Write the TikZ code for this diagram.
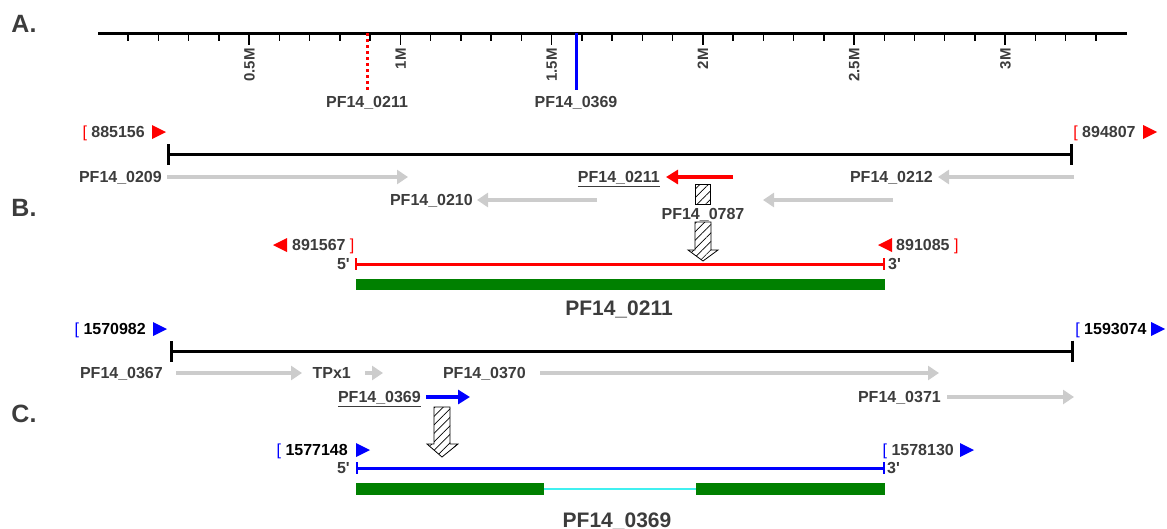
\documentclass[tikz,border=0pt]{standalone}
\usepackage{fontspec}
\setmainfont{Liberation Sans}
\usetikzlibrary{arrows.meta,patterns.meta,positioning}

\definecolor{txtgray}{HTML}{3C3C3C}
\definecolor{genegray}{HTML}{CCCCCC}
\definecolor{exongreen}{HTML}{008000}
\definecolor{introncyan}{HTML}{40F0F0}

\tikzset{
  lbl/.style={font=\fontsize{16}{18}\selectfont\bfseries, text=txtgray, inner sep=0pt, text height=11.5pt, text depth=0pt},
  brk/.style={font=\fontsize{16}{18}\selectfont, inner sep=0pt, text height=11.5pt, text depth=0pt},
  ticklbl/.style={font=\fontsize{15}{17}\selectfont\bfseries, text=txtgray, inner sep=0pt, text height=10.7pt, text depth=0pt, rotate=90, anchor=east},
  biglbl/.style={font=\fontsize{21}{24}\selectfont\bfseries, text=txtgray, inner sep=0pt, text height=15pt, text depth=0pt},
  panel/.style={font=\fontsize{25}{28}\selectfont\bfseries, text=txtgray, inner sep=0pt},
  chrom/.style={line width=3pt, {Bar[width=21pt]}-{Bar[width=21pt]}},
  amplicon/.style={line width=3pt},
  endtick/.style={line width=1.8pt},
  gene/.style={draw=genegray, line width=4.5pt, -{Triangle[length=11pt,width=14pt]}},
  hit/.style={line width=4.5pt, -{Triangle[length=12pt,width=14pt]}},
  hatch/.style={draw=black, line width=0.8pt, fill=white, postaction={pattern={Lines[angle=45,distance=6pt,line width=0.7pt]}}},
}

\begin{document}
\begin{tikzpicture}[x=1pt,y=-1pt]
\useasboundingbox (0,0) rectangle (1167,528);

% A. chromosome ruler
\node[panel] (pa) at (24,24) {A.};
\draw[line width=3pt] (98,33) -- (1127,33);
\foreach \i in {1,...,33}
  \draw[line width=1.5pt] ({98+30.24*\i},33) -- ++(0,8);
\foreach \i/\t in {1/0.5M,2/1M,3/1.5M,4/2M,5/2.5M,6/3M} {
  \draw[line width=1.5pt] ({98+151.2*\i},33) -- ++(0,12);
  \node[ticklbl] (t\i) at ({98+151.2*\i},48) {\t};
}
\node[lbl] (a211) at (367,102) {PF14\_0211};
\node[lbl] (a369) at (576,102) {PF14\_0369};
\draw[red, line width=3pt, dash pattern=on 3pt off 3pt] (367,33) -- ([yshift=6pt]a211.north);
\draw[blue, line width=3pt] (576,33) -- ([yshift=6pt]a369.north);

% B. PF14_0211 region
\node[panel] (pb) at (24,208) {B.};
\node[lbl, anchor=east] (bl) at (145,132) {885156};
\node[brk, text=red, left=4pt of bl] {[};
\fill[red] (152,125) -- (166,132) -- (152,139) -- cycle;
\node[lbl, anchor=west] (br) at (1082,132) {894807};
\node[brk, text=red, left=4pt of br] {[};
\fill[red] (1143,125) -- (1157,132) -- (1143,139) -- cycle;
\draw[chrom] (167,154) -- (1073,154);

\node[lbl, anchor=east] (g209) at (162,177) {PF14\_0209};
\draw[gene] (167,177) -- (408,177);
\node[lbl, anchor=east] (g211) at (660,177) {\underline{PF14\_0211}};
\draw[hit, red] (733,177) -- (666,177);
\node[lbl, anchor=east] (g212) at (933,177) {PF14\_0212};
\draw[gene] (1074,177) -- (938,177);
\node[lbl, anchor=east] (g210) at (473,200) {PF14\_0210};
\draw[gene] (597,200) -- (477,200);
\draw[gene] (893,200) -- (763,200);

\draw[hatch] (695,184) rectangle (710,204);
\node[lbl] (g787) at (703,214) {PF14\_0787};
\draw[hatch] (695,222) -- (711,222) -- (711,250) -- (718,250) -- (703,261)
  -- (688,250) -- (695,250) -- cycle;

\fill[red] (287,238) -- (273,245) -- (287,252) -- cycle;
\node[lbl, anchor=west] (pl) at (292,245) {891567};
\node[brk, text=red, right=4pt of pl] {]};
\fill[red] (892,238) -- (878,245) -- (892,252) -- cycle;
\node[lbl, anchor=west] (pr) at (896,245) {891085};
\node[brk, text=red, right=4pt of pr] {]};
\node[lbl, anchor=east] (b5) at (350,264) {5\textquotesingle};
\node[lbl, anchor=west] (b3) at (888,264) {3\textquotesingle};
\draw[amplicon, red] (356,264) -- (884,264);
\draw[endtick, red] (356,258) -- (356,270) (884,258) -- (884,270);
\fill[exongreen] (356,279) rectangle (885,290);
\node[biglbl] (gb) at (619,308) {PF14\_0211};

% C. PF14_0369 region
\node[panel] (pc) at (24,414) {C.};
\node[lbl, text=black, anchor=east] (cl) at (146,329) {1570982};
\node[brk, text=blue, left=4pt of cl] {[};
\fill[blue] (153,322) -- (167,329) -- (153,336) -- cycle;
\node[lbl, text=black, anchor=west] (cr) at (1084,329) {1593074};
\node[brk, text=blue, left=4pt of cr] {[};
\fill[blue] (1151,322) -- (1165,329) -- (1151,336) -- cycle;
\draw[chrom] (170,351) -- (1074,351);

\node[lbl, anchor=east] (g367) at (163,373) {PF14\_0367};
\draw[gene] (176,373) -- (302,373);
\node[lbl, anchor=east] (tpx) at (351,373) {TPx1};
\draw[gene] (365,373) -- (383,373);
\node[lbl, anchor=east] (g370) at (526,373) {PF14\_0370};
\draw[gene] (540,373) -- (939,373);
\node[lbl, anchor=east] (g369) at (421,397) {\underline{PF14\_0369}};
\draw[hit, blue] (426,397) -- (470,397);
\node[lbl, anchor=east] (g371) at (941,397) {PF14\_0371};
\draw[gene] (947,397) -- (1074,397);

\draw[hatch] (434,407) -- (450,407) -- (450,444) -- (458,444) -- (442,457)
  -- (427,444) -- (434,444) -- cycle;

\node[lbl, text=black, anchor=east] (ql) at (348,450) {1577148};
\node[brk, text=blue, left=4pt of ql] {[};
\fill[blue] (356,443) -- (370,450) -- (356,457) -- cycle;
\node[lbl, anchor=east] (qr) at (954,450) {1578130};
\node[brk, text=blue, left=4pt of qr] {[};
\fill[blue] (960,443) -- (974,450) -- (960,457) -- cycle;
\node[lbl, anchor=east] (c5) at (350,468) {5\textquotesingle};
\node[lbl, anchor=west] (c3) at (887,468) {3\textquotesingle};
\draw[amplicon, blue] (357,468) -- (884,468);
\draw[endtick, blue] (357,462) -- (357,474) (884,462) -- (884,474);
\draw[introncyan, line width=1.8pt] (544,489) -- (696,489);
\fill[exongreen] (356,483) rectangle (544,495);
\fill[exongreen] (696,483) rectangle (885,495);
\node[biglbl] (gc) at (617,520) {PF14\_0369};
\end{tikzpicture}
\end{document}
